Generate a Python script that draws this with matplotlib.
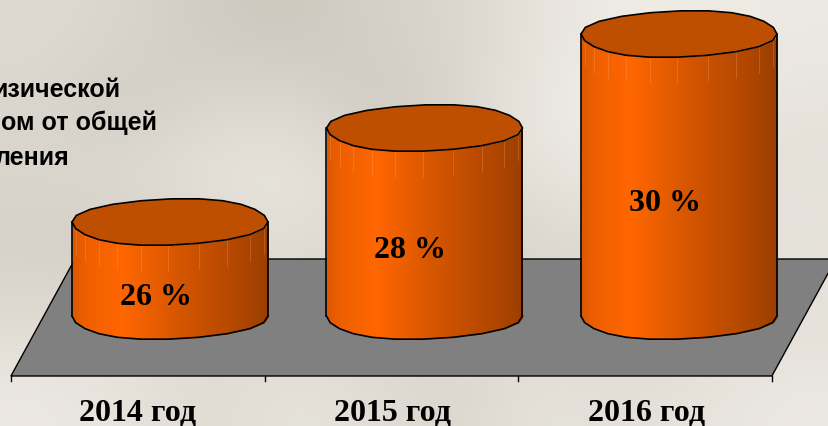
import numpy as np
import matplotlib
matplotlib.use("Agg")
import matplotlib.pyplot as plt
from matplotlib.colors import LinearSegmentedColormap
from matplotlib.patches import Polygon

years = ["2014 год", "2015 год", "2016 год"]
values = [26, 28, 30]
value_labels = ["26 %", "28 %", "30 %"]
note_lines = ["изической", "ом от общей", "ления"]

W, H = 829, 427
fig = plt.figure(figsize=(W / 100, H / 100), dpi=100)
ax = fig.add_axes([0, 0, 1, 1])

PX_X, X0 = 254.5, 170
PX_Y, Y0 = 47.0, 317
BASE = 24
ax.set_xlim(-X0 / PX_X, (W - X0) / PX_X)
ax.set_ylim(BASE - (H - Y0) / PX_Y, BASE + Y0 / PX_Y)
ax.axis("off")

# soft paper-like backdrop
paper = np.array([
    [.86, .84, .80, .78, .82, .84, .90, .93, .93, .92],
    [.84, .80, .84, .86, .78, .84, .92, .94, .92, .90],
    [.84, .86, .90, .91, .86, .84, .90, .92, .90, .88],
    [.82, .80, .84, .88, .84, .82, .84, .86, .88, .90],
    [.86, .88, .86, .84, .82, .84, .86, .84, .86, .88],
    [.92, .90, .86, .90, .88, .84, .90, .88, .90, .92],
])
paper_cmap = LinearSegmentedColormap.from_list("paper", ["#a39c8e", "#f3f0ea"])
ax.imshow(paper, extent=[*ax.get_xlim(), *ax.get_ylim()], origin="upper",
          cmap=paper_cmap, vmin=.6, vmax=.95, interpolation="bicubic",
          aspect="auto", zorder=0)

# floor of the 3-D plot
fx0, fx1 = -0.625, 2.365
fy0, fy1 = BASE - 60 / PX_Y, BASE + 57 / PX_Y
skew = 64 / PX_X
ax.add_patch(Polygon([(fx0, fy0), (fx1, fy0), (fx1 + skew, fy1), (fx0 + skew, fy1)],
                     closed=True, facecolor="#808080", edgecolor="black", lw=1.0, zorder=1))
for i in range(4):
    tx = fx0 + i * (fx1 - fx0) / 3
    ax.plot([tx, tx], [fy0, fy0 - 5 / PX_Y], color="black", lw=1.0, zorder=2)

A = 98 / PX_X
K = 16 / PX_X
B = 23.4 / PX_Y
N = 22
side_cmap = LinearSegmentedColormap.from_list(
    "side", [(0, "#DD5800"), (.06, "#EE5F00"), (.25, "#FF6600"), (.55, "#D45500"),
             (.85, "#B04600"), (1, "#9A3E00")])


def rim(t):
    return A * np.cos(t) + K * np.sin(t) ** 3, B * np.sin(t)


for i, v in enumerate(values):
    low = np.linspace(np.pi, 2 * np.pi, N // 2 + 1)
    lx, ly = rim(low)
    lx = lx + i
    fine = np.linspace(lx[0], lx[-1], 121)
    fy = np.interp(fine, lx, ly)
    for j in range(len(fine) - 1):
        frac = (fine[j] - fine[0]) / (fine[-1] - fine[0])
        c = side_cmap(frac)
        end = min(fine[j + 1] + 0.006, fine[-1])
        xs = [fine[j], end]
        ax.fill_between(xs, [BASE + fy[j], BASE + fy[j + 1]], [v + fy[j], v + fy[j + 1]],
                        color=c, lw=0, zorder=3)
    for x, y in zip(lx[1:-1], ly[1:-1]):
        ax.plot([x, x], [v + y - 0.55, v + y], color="#FFB27A", lw=0.5, alpha=.35, zorder=3.2)
    ax.plot(lx, BASE + ly, color="black", lw=1.2, zorder=4, solid_joinstyle="round")
    ax.plot([lx[0], lx[0]], [BASE, v], color="black", lw=1.2, zorder=4)
    ax.plot([lx[-1], lx[-1]], [BASE, v], color="black", lw=1.2, zorder=4)
    t = np.linspace(0, 2 * np.pi, N + 1)[:-1]
    tx, ty = rim(t)
    ax.add_patch(Polygon(np.column_stack([tx + i, ty + v]), closed=True,
                         facecolor="#BF4F00", edgecolor="black", lw=1.2, zorder=5))
    ax.text(i - 14 / PX_X, (BASE + v) / 2 - 28 / PX_Y, value_labels[i], ha="center", va="center",
            fontsize=23, fontweight="bold", family="Liberation Serif", color="black", zorder=6)
    ax.text(i - 0.126, BASE - 96.5 / PX_Y, years[i], ha="center", va="center",
            fontsize=23, fontweight="bold", family="Liberation Serif", color="black", zorder=6)

note_right = [120, 157, 69]
note_y = [90, 123, 158]
for s, r, y in zip(note_lines, note_right, note_y):
    ax.text((r - X0) / PX_X, BASE + (Y0 - y) / PX_Y, s, ha="right", va="center",
            fontsize=18, fontweight="bold", family="Liberation Sans", color="black", zorder=6)

fig.savefig("out.png", dpi=100)
